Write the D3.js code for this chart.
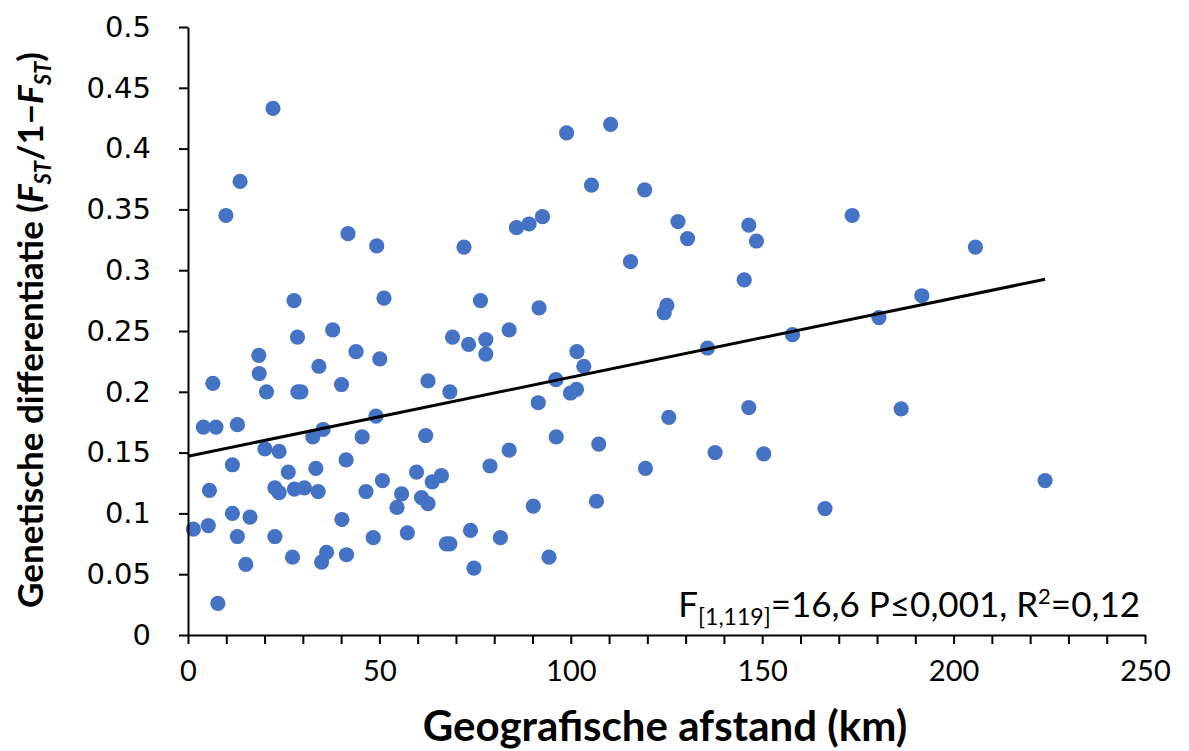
<!DOCTYPE html>
<html>
<head>
<meta charset="utf-8">
<script src="https://cdn.jsdelivr.net/npm/d3@7"></script>
<style>
  body { margin: 0; background: #fff; }
  svg { display: block; font-family: Lato, "Open Sans", sans-serif; }
</style>
</head>
<body>
<div id="chart"></div>
<script>
// distance between populations (km)
const distance = [
  1.4, 4.0, 5.3, 5.6, 6.5, 7.3, 7.8, 9.9, 11.6, 11.6,
  12.9, 12.9, 13.6, 15.1, 16.2, 18.5, 18.6, 20.1, 20.5, 22.2,
  22.7, 22.7, 23.8, 23.8, 26.2, 27.3, 27.7, 27.8, 28.6, 28.7,
  29.5, 30.4, 32.6, 33.4, 34.0, 34.2, 34.9, 35.3, 36.2, 37.8,
  40.1, 40.2, 41.3, 41.4, 41.8, 43.9, 45.5, 46.5, 48.4, 49.1,
  49.3, 50.1, 50.8, 51.2, 54.6, 55.8, 57.3, 59.7, 61.0, 62.1,
  62.7, 62.7, 63.8, 66.2, 67.5, 68.4, 68.4, 69.1, 72.1, 73.3,
  73.8, 74.7, 76.4, 77.8, 77.8, 78.9, 81.6, 83.9, 83.9, 85.8,
  89.1, 90.2, 91.5, 91.7, 92.6, 94.3, 96.1, 96.2, 98.9, 99.9,
  101.5, 101.6, 103.4, 105.4, 106.7, 107.3, 110.4, 115.6, 119.3, 119.5,
  124.4, 125.1, 125.6, 128.0, 130.5, 135.7, 137.7, 145.3, 146.5, 146.5,
  148.5, 150.4, 157.9, 166.4, 173.5, 180.5, 186.3, 191.7, 205.7, 223.9
];

// FST/(1-FST)
const differentiation = [
  0.087, 0.171, 0.090, 0.119, 0.207, 0.171, 0.026, 0.345, 0.140, 0.100,
  0.173, 0.081, 0.373, 0.058, 0.097, 0.230, 0.215, 0.153, 0.200, 0.433,
  0.121, 0.081, 0.117, 0.151, 0.134, 0.064, 0.275, 0.120, 0.245, 0.200,
  0.200, 0.121, 0.163, 0.137, 0.118, 0.221, 0.060, 0.169, 0.068, 0.251,
  0.206, 0.095, 0.144, 0.066, 0.330, 0.233, 0.163, 0.118, 0.080, 0.180,
  0.320, 0.227, 0.127, 0.277, 0.105, 0.116, 0.084, 0.134, 0.113, 0.164,
  0.108, 0.209, 0.126, 0.131, 0.075, 0.075, 0.200, 0.245, 0.319, 0.239,
  0.086, 0.055, 0.275, 0.243, 0.231, 0.139, 0.080, 0.251, 0.152, 0.335,
  0.338, 0.106, 0.191, 0.269, 0.344, 0.064, 0.210, 0.163, 0.413, 0.199,
  0.202, 0.233, 0.221, 0.370, 0.110, 0.157, 0.420, 0.307, 0.366, 0.137,
  0.265, 0.271, 0.179, 0.340, 0.326, 0.236, 0.150, 0.292, 0.337, 0.187,
  0.324, 0.149, 0.247, 0.104, 0.345, 0.261, 0.186, 0.279, 0.319, 0.127
];

const xTicks = [0, 50, 100, 150, 200, 250];
const yTicks = [0, 0.05, 0.1, 0.15, 0.2, 0.25, 0.3, 0.35, 0.4, 0.45, 0.5];

// linear trend line
const trendIntercept = 0.147;
const trendSlope = 0.00065;

const points = distance.map((d, i) => ({ km: d, value: differentiation[i] }));

const width = 1189;
const height = 751;
const margin = { top: 27, right: 44, bottom: 116, left: 188 };

const x = d3.scaleLinear().domain([0, 250]).range([margin.left, width - margin.right]);
const y = d3.scaleLinear().domain([0, 0.5]).range([height - margin.bottom, margin.top]);

const svg = d3
  .select("#chart")
  .append("svg")
  .attr("width", width)
  .attr("height", height);

// points first, trend line on top
svg
  .append("g")
  .selectAll("circle")
  .data(points)
  .join("circle")
  .attr("cx", (d) => x(d.km))
  .attr("cy", (d) => y(d.value))
  .attr("r", 7.6)
  .attr("fill", "#4472c4");

const xMax = d3.max(distance);
svg
  .append("path")
  .datum([0, xMax])
  .attr("fill", "none")
  .attr("stroke", "#000")
  .attr("stroke-width", 3)
  .attr("d", d3.line().x((d) => x(d)).y((d) => y(trendIntercept + trendSlope * d)));

// x axis: minor ticks every 10 km, labels every 50
const xAxis = svg
  .append("g")
  .attr("transform", `translate(0,${y(0)})`)
  .call(
    d3.axisBottom(x)
      .tickValues(d3.range(0, 251, 10))
      .tickSize(9)
      .tickSizeOuter(0)
      .tickFormat((d) => (xTicks.includes(d) ? d : ""))
  );
xAxis.select(".domain").attr("stroke", "#000").attr("stroke-width", 2);
xAxis.selectAll(".tick line").attr("stroke", "#000").attr("stroke-width", 2);
xAxis
  .selectAll(".tick text")
  .attr("fill", "#000")
  .style("font-family", "Lato, sans-serif")
  .style("font-size", "29px")
  .attr("y", 46)
  .attr("dy", null);

const yAxis = svg
  .append("g")
  .attr("transform", `translate(${x(0)},0)`)
  .call(d3.axisLeft(y).tickValues(yTicks).tickSize(9).tickSizeOuter(0).tickFormat((d) => d));
yAxis.select(".domain").attr("stroke", "#000").attr("stroke-width", 2);
yAxis.selectAll(".tick line").attr("stroke", "#000").attr("stroke-width", 2);
yAxis
  .selectAll(".tick text")
  .attr("fill", "#000")
  .style("font-family", "'DejaVu Sans', sans-serif")
  .style("font-size", "29px")
  .attr("x", -37);

// axis titles
svg
  .append("text")
  .attr("x", 665)
  .attr("y", 741)
  .attr("text-anchor", "middle")
  .style("font-size", "42px")
  .attr("font-weight", 700)
  .text("Geografische afstand (km)");

const yTitle = svg
  .append("text")
  .attr("transform", `translate(43,${330}) rotate(-90)`)
  .attr("text-anchor", "middle")
  .style("font-size", "35px")
  .attr("font-weight", 700);
yTitle.append("tspan").text("Genetische differentiatie (");
yTitle.append("tspan").attr("font-style", "italic").text("F");
yTitle.append("tspan").attr("font-style", "italic").style("font-size", "22px").attr("dy", 8).text("ST");
yTitle.append("tspan").attr("dy", -8).text("/1\u2212");
yTitle.append("tspan").attr("font-style", "italic").text("F");
yTitle.append("tspan").attr("font-style", "italic").style("font-size", "22px").attr("dy", 8).text("ST");
yTitle.append("tspan").attr("dy", -8).text(")");

// statistics annotation
const stats = svg
  .append("text")
  .attr("x", 1140)
  .attr("y", 617)
  .attr("text-anchor", "end")
  .style("font-size", "35px");
stats.append("tspan").text("F");
stats.append("tspan").style("font-size", "23px").attr("dy", 8).text("[1,119]");
stats.append("tspan").attr("dy", -8).text("=16,6 P\u22640,001, R");
stats.append("tspan").style("font-size", "22px").attr("dy", -13).text("2");
stats.append("tspan").attr("dy", 13).text("=0,12");
</script>
</body>
</html>
